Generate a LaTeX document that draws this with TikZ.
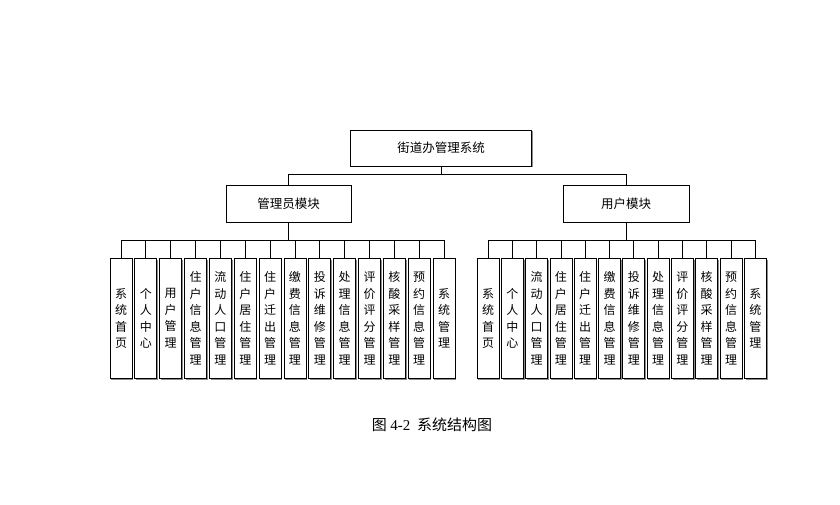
\documentclass[tikz,border=0pt]{standalone}
\usepackage{fontspec}
\setmainfont{Noto Sans CJK SC}
\newfontfamily\capfont{Liberation Serif}
\usetikzlibrary{positioning,shadows}

\begin{document}
\begin{tikzpicture}[
x=1pt, y=-1pt,
box/.style={draw, fill=white, line width=0.8pt, inner sep=0pt, align=center,
  drop shadow={shadow xshift=1.2pt, shadow yshift=-1.2pt, fill=black!45, opacity=1},
  font=\fontsize{12.5}{15}\selectfont},
leaf/.style={box, anchor=north, minimum width=22pt, minimum height=120pt,
  font=\fontsize{12}{16.5}\selectfont},
link/.style={line width=0.8pt}
]
\useasboundingbox (0,0) rectangle (840,505);

\node[box, minimum width=181pt, minimum height=36pt] (root) at (441,148) {街道办管理系统};
\node[box, minimum width=125pt, minimum height=37pt] (admin) at (288.5,203.5) {管理员模块};
\node[box, minimum width=126pt, minimum height=37pt] (user) at (626,203.5) {用户模块};

\draw[link] (root.south) -- ++(0,8) -| (admin.north);
\draw[link] (root.south) -- ++(0,8) -| (user.north);

% admin leaves
\foreach \t [count=\i] in {{系\\统\\首\\页},{个\\人\\中\\心},{用\\户\\管\\理},
  {住\\户\\信\\息\\管\\理},{流\\动\\人\\口\\管\\理},{住\\户\\居\\住\\管\\理},
  {住\\户\\迁\\出\\管\\理},{缴\\费\\信\\息\\管\\理},{投\\诉\\维\\修\\管\\理},
  {处\\理\\信\\息\\管\\理},{评\\价\\评\\分\\管\\理},{核\\酸\\采\\样\\管\\理},
  {预\\约\\信\\息\\管\\理},{系\\统\\管\\理}}
{
  \node[leaf] (a\i) at ({96.15+24.85*\i},258) {\t};
  \draw[link] (admin.south) -- ++(0,18) -| (a\i.north);
}

% user leaves
\foreach \t [count=\i] in {{系\\统\\首\\页},{个\\人\\中\\心},
  {流\\动\\人\\口\\管\\理},{住\\户\\居\\住\\管\\理},
  {住\\户\\迁\\出\\管\\理},{缴\\费\\信\\息\\管\\理},{投\\诉\\维\\修\\管\\理},
  {处\\理\\信\\息\\管\\理},{评\\价\\评\\分\\管\\理},{核\\酸\\采\\样\\管\\理},
  {预\\约\\信\\息\\管\\理},{系\\统\\管\\理}}
{
  \node[leaf] (u\i) at ({463.7+24.3*\i},258) {\t};
  \draw[link] (user.south) -- ++(0,18) -| (u\i.north);
}

\node[font=\fontsize{15}{17}\selectfont] (caption) at (432,425) {图 {\capfont 4-2}\ \ 系统结构图};
\end{tikzpicture}
\end{document}
